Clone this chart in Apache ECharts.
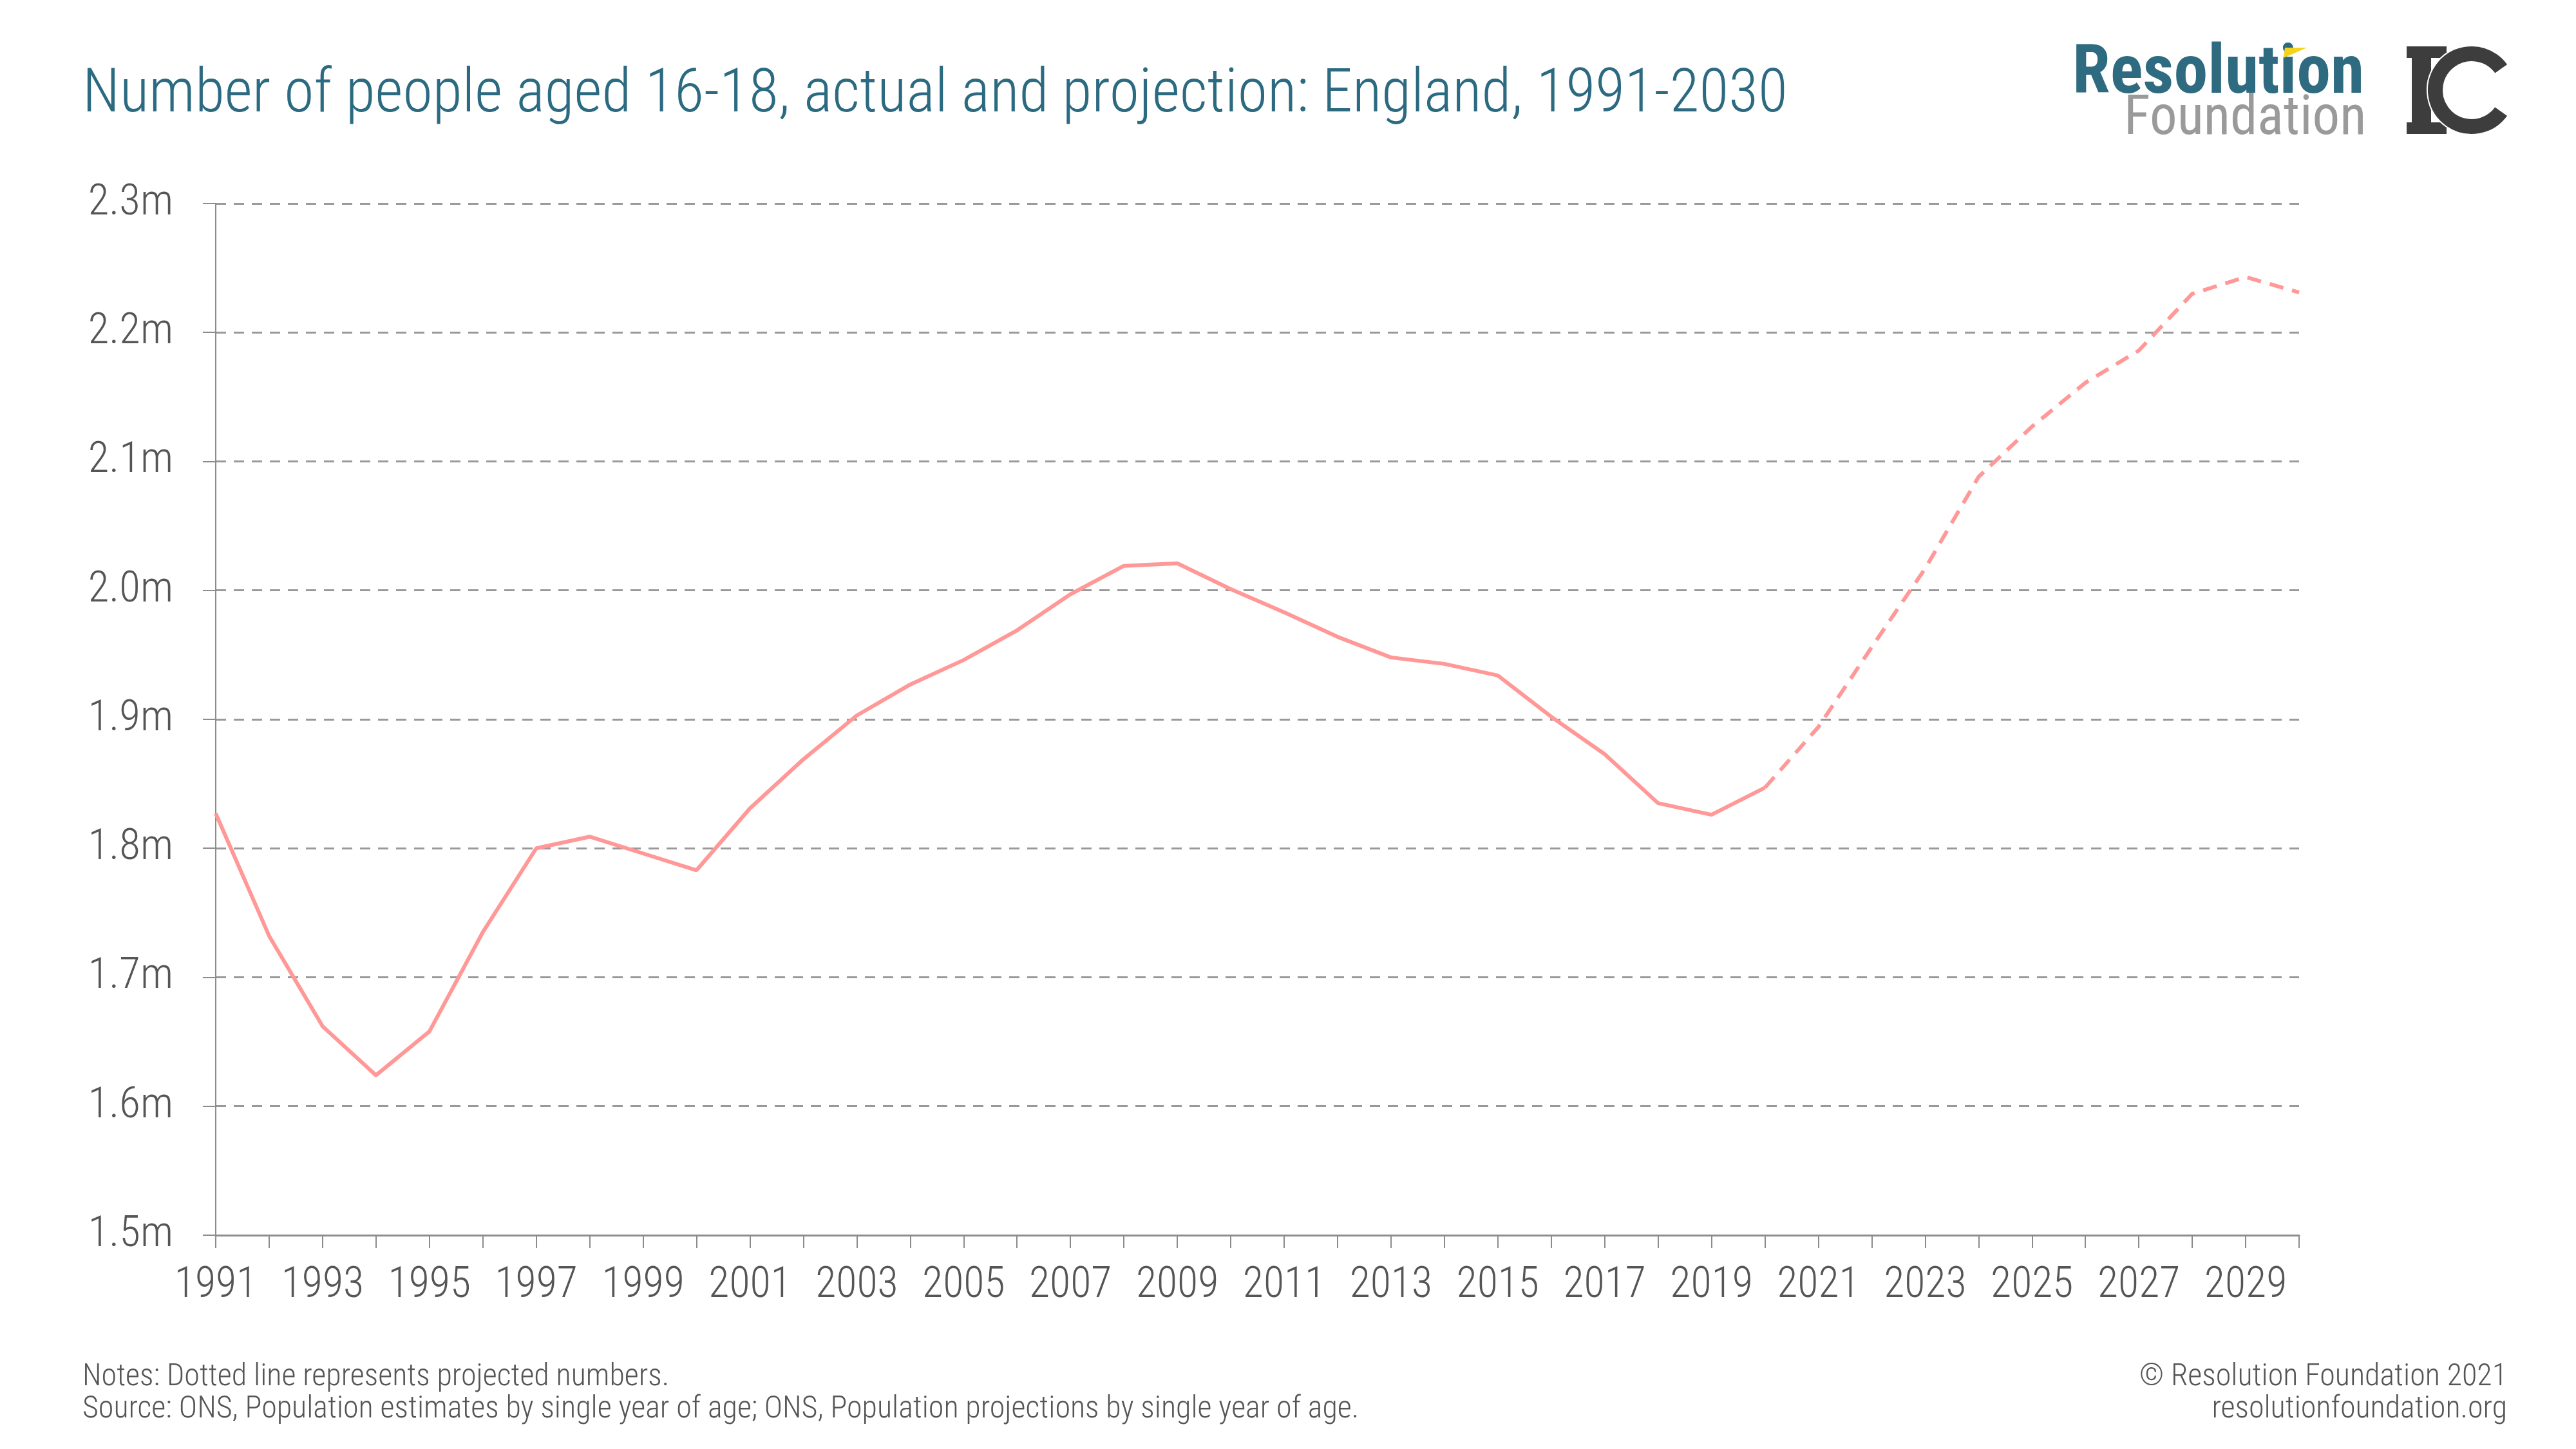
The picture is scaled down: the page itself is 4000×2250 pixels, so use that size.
<!DOCTYPE html>
<html>
<head>
<meta charset="utf-8">
<title>Number of people aged 16-18</title>
<script src="https://cdn.jsdelivr.net/npm/echarts@6/dist/echarts.min.js"></script>
<style>
  html, body { margin: 0; padding: 0; background: #fff; }
  #chart { width: 4000px; height: 2250px; }
</style>
</head>
<body>
<div id="chart"></div>
<script>
// years on the x axis
const years = [
  '1991','1992','1993','1994','1995','1996','1997','1998','1999','2000',
  '2001','2002','2003','2004','2005','2006','2007','2008','2009','2010',
  '2011','2012','2013','2014','2015','2016','2017','2018','2019','2020',
  '2021','2022','2023','2024','2025','2026','2027','2028','2029','2030',
]
// actual population aged 16-18, millions (1991-2020)
const actual = [
  1.827, 1.732, 1.662, 1.624, 1.658, 1.735, 1.800, 1.809, 1.796, 1.783,
  1.831, 1.869, 1.903, 1.927, 1.946, 1.969, 1.997, 2.019, 2.021, 2.001,
  1.983, 1.964, 1.948, 1.943, 1.934, 1.902, 1.873, 1.835, 1.826, 1.847,
]
// projection, millions (2020-2030)
const projected = [1.847, 1.894, 1.956, 2.017, 2.088, 2.127, 2.161, 2.186, 2.230, 2.243, 2.231]

const FONT = '"Liberation Sans Narrow", "Roboto Condensed", Roboto, sans-serif'
const LINE = '#ff9896'
const TEAL = '#2b6a80'

const projStart = years.indexOf('2020')
const actualData = years.map((y, i) => i < actual.length ? actual[i] : null)
const projData = years.map((y, i) => i >= projStart ? projected[i - projStart] : null)

const chart = echarts.init(document.getElementById('chart'))

chart.setOption({
  animation: false,
  backgroundColor: '#fff',
  grid: { left: 335, right: 430, top: 316, bottom: 332, containLabel: false },
  xAxis: {
    type: 'category',
    data: years,
    boundaryGap: false,
    axisLine: { lineStyle: { color: '#8c8c8c', width: 3 } },
    axisTick: { show: true, length: 20, interval: 0, lineStyle: { color: '#8c8c8c', width: 2 } },
    axisLabel: { interval: 1, margin: 46, color: '#555', fontSize: 66, fontWeight: 300, fontFamily: FONT },
    splitLine: { show: false },
  },
  yAxis: {
    type: 'value',
    min: 1.5,
    max: 2.3,
    interval: 0.1,
    axisLine: { show: true, lineStyle: { color: '#8c8c8c', width: 2 } },
    axisTick: { show: true, length: 20, lineStyle: { color: '#8c8c8c', width: 2 } },
    axisLabel: {
      margin: 66,
      color: '#555',
      fontSize: 67,
      fontWeight: 300,
      fontFamily: FONT,
      padding: [0, 0, 14, 0],
      formatter: v => v.toFixed(1) + 'm',
    },
    splitLine: { lineStyle: { color: '#999', width: 3, type: [16, 12] } },
  },
  series: [
    {
      name: 'Actual',
      type: 'line',
      data: actualData,
      symbol: 'none',
      lineStyle: { color: LINE, width: 6 },
    },
    {
      name: 'Projection',
      type: 'line',
      data: projData,
      symbol: 'none',
      lineStyle: { color: LINE, width: 6, type: [22, 14] },
    },
  ],
  graphic: [
    {
      type: 'text', left: 128, top: 102,
      style: {
        text: 'Number of people aged 16-18, actual and projection: England, 1991-2030',
        font: '300 94px ' + FONT, fill: TEAL,
      },
    },
    // Resolution Foundation logo
    {
      type: 'text', left: 3218, top: 64,
      style: { text: 'Resolution', font: 'bold 106px ' + FONT, fill: '#2e6b80' },
    },
    {
      type: 'polygon',
      shape: { points: [[3548, 74], [3582, 74], [3546, 90]] },
      style: { fill: '#f5d31b' },
    },
    {
      type: 'text', left: 3298, top: 144,
      style: { text: 'Foundation', font: '85px ' + FONT, fill: '#9a9a9a' },
    },
    // IC mark
    { type: 'rect', shape: { x: 3737, y: 72, width: 62, height: 18 }, style: { fill: '#3d3d3d' } },
    { type: 'rect', shape: { x: 3745, y: 72, width: 30, height: 136 }, style: { fill: '#3d3d3d' } },
    { type: 'rect', shape: { x: 3737, y: 190, width: 62, height: 18 }, style: { fill: '#3d3d3d' } },
    {
      type: 'sector',
      shape: {
        cx: 3838, cy: 140, r0: 44, r: 69,
        startAngle: 35 * Math.PI / 180, endAngle: 325 * Math.PI / 180, clockwise: true,
      },
      style: { fill: '#3d3d3d', stroke: '#fff', lineWidth: 2 },
    },
    // footer
    {
      type: 'text', left: 128, top: 2114,
      style: {
        text: 'Notes: Dotted line represents projected numbers.\nSource: ONS, Population estimates by single year of age; ONS, Population projections by single year of age.',
        font: '300 48px ' + FONT, fill: '#555', lineHeight: 50,
      },
    },
    {
      type: 'text', right: 107, top: 2114,
      style: { text: '© Resolution Foundation 2021', font: '300 48px ' + FONT, fill: '#555', lineHeight: 50 },
    },
    {
      type: 'text', right: 107, top: 2164,
      style: { text: 'resolutionfoundation.org', font: '300 48px ' + FONT, fill: '#555', lineHeight: 50 },
    },
  ],
})
</script>
</body>
</html>
